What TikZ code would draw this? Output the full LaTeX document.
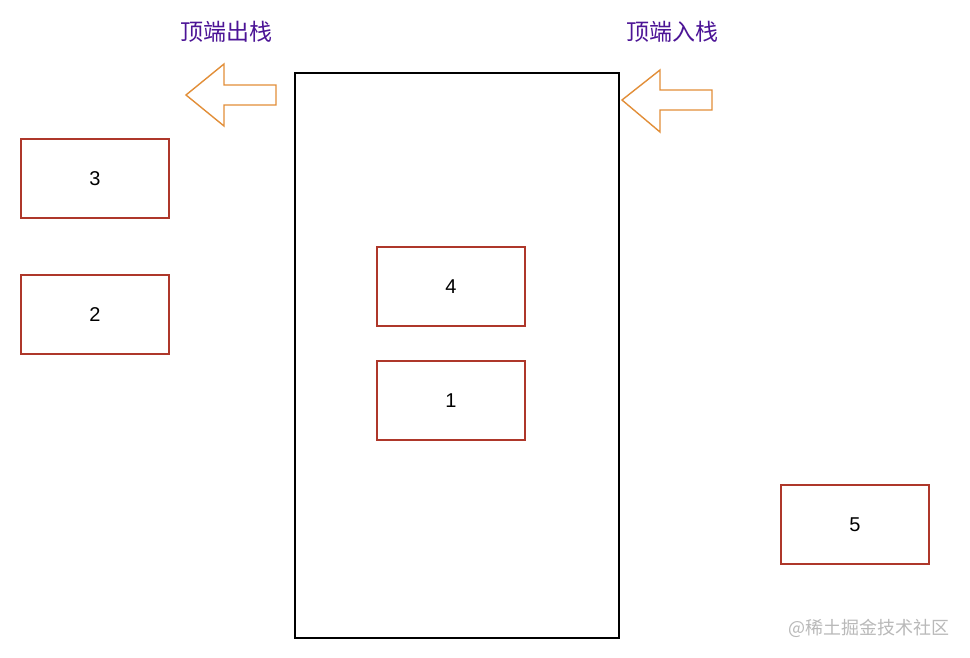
\documentclass[tikz,border=0pt]{standalone}
\usepackage{fontspec}
\setmainfont{Liberation Sans}
\newfontfamily\cjk{Noto Sans CJK SC}
\definecolor{boxred}{RGB}{174,55,42}
\definecolor{arrorange}{RGB}{226,142,56}
\definecolor{labpurple}{RGB}{76,20,150}
\definecolor{wmgray}{RGB}{185,185,185}
\begin{document}
\begin{tikzpicture}[x=1pt,y=-1pt,
  numbox/.style={draw=boxred,line width=1.6pt,minimum width=148pt,minimum height=79pt,inner sep=0pt,font=\fontsize{20}{23}\selectfont},
  stackbox/.style={draw=black,line width=1.4pt,inner sep=0pt},
  fatarrow/.style={draw=arrorange,line width=1.4pt,line join=miter},
  lab/.style={text=labpurple,font=\cjk\fontsize{23}{26}\selectfont,inner sep=0pt}]
\useasboundingbox (0,0) rectangle (970,658);
\fill[white] (0,0) rectangle (970,658);
\node[stackbox,minimum width=324pt,minimum height=565pt] (stack) at (457,355.5) {};
\node[numbox] (b3) at (95,178.5) {3};
\node[numbox] (b2) at (95,314.5) {2};
\node[numbox] (b4) at (451,286.5) {4};
\node[numbox] (b1) at (451,400.5) {1};
\node[numbox] (b5) at (855,524.5) {5};
\node[lab] (outlab) at (226,32) {顶端出栈};
\node[lab] (inlab) at (672,32) {顶端入栈};
\draw[fatarrow] (186,95) -- (224,64) -- (224,85) -- (276,85) -- (276,105) -- (224,105) -- (224,126) -- cycle;
\draw[fatarrow] (622,100) -- (660,70) -- (660,90) -- (712,90) -- (712,110) -- (660,110) -- (660,132) -- cycle;
\node[text=wmgray,font=\cjk\fontsize{18}{21}\selectfont,inner sep=0pt,anchor=east] (wm) at (950,628) {@稀土掘金技术社区};
\end{tikzpicture}
\end{document}
